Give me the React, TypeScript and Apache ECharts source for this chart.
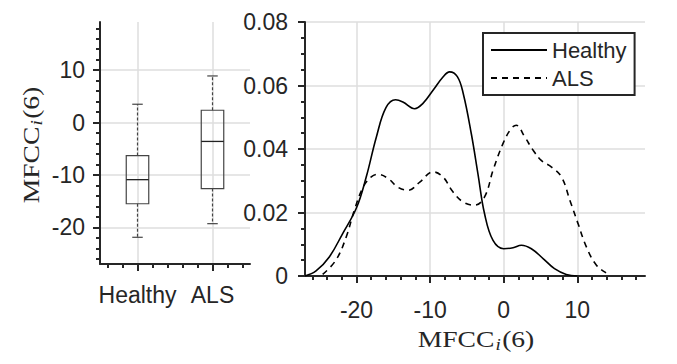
import React, { useEffect, useRef } from 'react';
import * as echarts from 'echarts';

// ---- data ----
const categories = ['Healthy', 'ALS'];
const categoryPos = [1, 2];
// [lower whisker, Q1, median, Q3, upper whisker]
const healthyBox = [-21.9, -15.5, -10.9, -6.3, 3.5];
const alsBox = [-19.3, -12.6, -3.6, 2.35, 8.9];

const healthyX = [-27, -25.5, -23.7, -21.9, -20, -18.7, -17.3, -16, -14.7, -13.7, -12.1, -11, -9.6, -8.25, -7.35, -6.3, -5.5, -4.4, -3.5, -2.6, -1.45, 0, 1.27, 2.4, 3.76, 5.35, 6.9, 8.5, 10];
const healthyY = [0, 0.0016, 0.006, 0.0133, 0.0215, 0.031, 0.0438, 0.053, 0.0555, 0.0548, 0.0527, 0.0543, 0.0585, 0.0627, 0.0643, 0.0628, 0.0575, 0.0448, 0.0322, 0.0196, 0.0112, 0.0086, 0.0089, 0.0097, 0.0086, 0.0055, 0.0023, 0.0005, 0];

const alsX = [-24.6, -22.8, -21.4, -20.3, -19.1, -18, -17.1, -15.7, -14.4, -13, -11.4, -9.6, -8.25, -6.9, -5.5, -3.95, -2.6, -1.45, -0.1, 1, 1.7, 2.86, 4, 5.1, 6.5, 7.85, 9, 10.1, 11.25, 12.6, 14.2, 14.5];
const alsY = [0.0005, 0.005, 0.0123, 0.0207, 0.028, 0.0312, 0.032, 0.0307, 0.028, 0.027, 0.0296, 0.0328, 0.0312, 0.0265, 0.0233, 0.0223, 0.0249, 0.0333, 0.0417, 0.0464, 0.0475, 0.0438, 0.0396, 0.0364, 0.0343, 0.0312, 0.0238, 0.0165, 0.0091, 0.0034, 0.0005, 0];

const mfccMin = -27;
const mfccMax = 19.2;
const majorTicks = [-20, -10, 0, 10];
const minorTicks = [-26, -24, -22, -18, -16, -14, -12, -8, -6, -4, -2, 2, 4, 6, 8, 12, 14, 16, 18];
const catMinorTicks = [0.6, 0.8, 1.2, 1.4, 1.6, 1.8, 2.2, 2.4];
const densityMax = 0.08;
const densityStep = 0.02;

const INK = '#262626';
const GRID = '#dedede';
const SANS = 'Liberation Sans, Arial, sans-serif';
const SERIF = 'Liberation Serif, Times New Roman, serif';

const mathRich = {
  a: { fontFamily: SERIF, fontSize: 23, fill: INK },
  s: { fontFamily: SERIF, fontSize: 16, fontStyle: 'italic', fill: INK, padding: [11, 1, 0, 1] },
};
const mathLabel = '{a|MFCC}{s|i}{a|(6)}';

export default function App() {
  const ref = useRef<HTMLDivElement>(null);
  useEffect(() => {
    document.body.style.margin = '0';
    const chart = echarts.init(ref.current!, null, { renderer: 'svg' });
    const axisLine = { show: true, onZero: false, lineStyle: { color: INK, width: 2 } };
    const splitLine = { show: true, lineStyle: { color: GRID, width: 1.5 } };
    const boxData = [
      [categoryPos[0], ...healthyBox],
      [categoryPos[1], ...alsBox],
    ];
    const option: any = {
      animation: false,
      backgroundColor: '#fff',
      grid: [
        { left: 100, top: 22, width: 150, height: 242 },
        { left: 305, top: 22, width: 340, height: 254 },
      ],
      graphic: [
        {
          type: 'text', x: 476, y: 339, scaleX: 1.2,
          style: { text: mathLabel, rich: mathRich, align: 'center', verticalAlign: 'middle' },
        },
        {
          type: 'text', x: 31, y: 145, rotation: Math.PI / 2, scaleX: 1.2,
          style: { text: mathLabel, rich: mathRich, align: 'center', verticalAlign: 'middle' },
        },
      ],
      xAxis: [
        {
          type: 'value', gridIndex: 0, position: 'bottom', min: 0.5, max: 2.5,
          axisLine,
          axisTick: { show: true, customValues: categoryPos, length: 7, lineStyle: { color: INK, width: 2 } },
          axisLabel: {
            customValues: categoryPos, margin: 19, fontSize: 23, fontFamily: SANS, color: INK,
            formatter: (v: number) => categories[categoryPos.indexOf(v)] ?? '',
          },
          splitLine,
        },
        {
          type: 'value', gridIndex: 0, position: 'bottom', min: 0.5, max: 2.5,
          axisLine: { show: false, onZero: false },
          axisTick: { show: true, customValues: catMinorTicks, length: 4, lineStyle: { color: INK, width: 2 } },
          axisLabel: { show: false },
          splitLine: { show: false },
        },
        {
          type: 'value', gridIndex: 1, position: 'bottom', min: mfccMin, max: mfccMax,
          axisLine,
          axisTick: { show: true, customValues: majorTicks, length: 7, lineStyle: { color: INK, width: 2 } },
          axisLabel: { customValues: majorTicks, margin: 22, fontSize: 23, fontFamily: SANS, color: INK },
          splitLine,
        },
        {
          type: 'value', gridIndex: 1, position: 'bottom', min: mfccMin, max: mfccMax,
          axisLine: { show: false, onZero: false },
          axisTick: { show: true, customValues: minorTicks, length: 4, lineStyle: { color: INK, width: 2 } },
          axisLabel: { show: false },
          splitLine: { show: false },
        },
      ],
      yAxis: [
        {
          type: 'value', gridIndex: 0, position: 'left', min: mfccMin, max: mfccMax,
          axisLine,
          axisTick: { show: true, customValues: majorTicks, length: 7, lineStyle: { color: INK, width: 2 } },
          axisLabel: { customValues: majorTicks, margin: 15, fontSize: 23, fontFamily: SANS, color: INK },
          splitLine,
        },
        {
          type: 'value', gridIndex: 0, position: 'left', min: mfccMin, max: mfccMax,
          axisLine: { show: false, onZero: false },
          axisTick: { show: true, customValues: minorTicks, length: 4, lineStyle: { color: INK, width: 2 } },
          axisLabel: { show: false },
          splitLine: { show: false },
        },
        {
          type: 'value', gridIndex: 1, position: 'left', min: 0, max: densityMax, interval: densityStep,
          axisLine,
          axisTick: { show: true, length: 7, lineStyle: { color: INK, width: 2 } },
          minorTick: { show: true, splitNumber: 4, length: 4, lineStyle: { color: INK, width: 2 } },
          axisLabel: { margin: 17, fontSize: 23, fontFamily: SANS, color: INK },
          splitLine,
        },
      ],
      legend: {
        data: ['Healthy', 'ALS'],
        orient: 'vertical',
        left: 483, top: 33,
        padding: [6, 8, 6, 7],
        itemWidth: 56, itemHeight: 14, itemGap: 6,
        itemStyle: { opacity: 0 },
        borderColor: INK, borderWidth: 2, backgroundColor: '#fff',
        textStyle: { fontSize: 22, fontFamily: SANS, color: INK },
      },
      series: [
        {
          type: 'custom',
          xAxisIndex: 0, yAxisIndex: 0,
          encode: { x: 0, y: [1, 2, 3, 4, 5] },
          data: boxData,
          renderItem: (_params: any, api: any) => {
            const x = api.value(0);
            const lo = api.coord([x, api.value(1)]);
            const q1 = api.coord([x, api.value(2)]);
            const med = api.coord([x, api.value(3)]);
            const q3 = api.coord([x, api.value(4)]);
            const hi = api.coord([x, api.value(5)]);
            const bw = api.size([0.3, 0])[0];
            const cw = api.size([0.14, 0])[0];
            const cx = q1[0];
            const boxStroke = { stroke: '#444', lineWidth: 1.2, fill: 'none' };
            const dashStroke = { stroke: '#444', lineWidth: 1.2, lineDash: [3, 2] };
            const capStroke = { stroke: '#444', lineWidth: 1.2 };
            return {
              type: 'group',
              children: [
                { type: 'line', shape: { x1: cx, y1: q3[1], x2: cx, y2: hi[1] }, style: dashStroke },
                { type: 'line', shape: { x1: cx, y1: q1[1], x2: cx, y2: lo[1] }, style: dashStroke },
                { type: 'line', shape: { x1: cx - cw / 2, y1: hi[1], x2: cx + cw / 2, y2: hi[1] }, style: capStroke },
                { type: 'line', shape: { x1: cx - cw / 2, y1: lo[1], x2: cx + cw / 2, y2: lo[1] }, style: capStroke },
                { type: 'rect', shape: { x: cx - bw / 2, y: q3[1], width: bw, height: q1[1] - q3[1] }, style: boxStroke },
                { type: 'line', shape: { x1: cx - bw / 2, y1: med[1], x2: cx + bw / 2, y2: med[1] }, style: { stroke: '#222', lineWidth: 1.3 } },
              ],
            };
          },
        },
        {
          name: 'Healthy', type: 'line', xAxisIndex: 2, yAxisIndex: 2,
          data: healthyX.map((x, i) => [x, healthyY[i]]),
          symbol: 'none', smooth: 0.4,
          lineStyle: { color: '#000', width: 1.6 },
          itemStyle: { color: '#000' },
        },
        {
          name: 'ALS', type: 'line', xAxisIndex: 2, yAxisIndex: 2,
          data: alsX.map((x, i) => [x, alsY[i]]),
          symbol: 'none', smooth: 0.4,
          lineStyle: { color: '#000', width: 1.6, type: [6, 5] },
          itemStyle: { color: '#000' },
        },
      ],
    };
    chart.setOption(option);
    return () => chart.dispose();
  }, []);
  return <div ref={ref} style={{ width: 677, height: 364 }} />;
}
